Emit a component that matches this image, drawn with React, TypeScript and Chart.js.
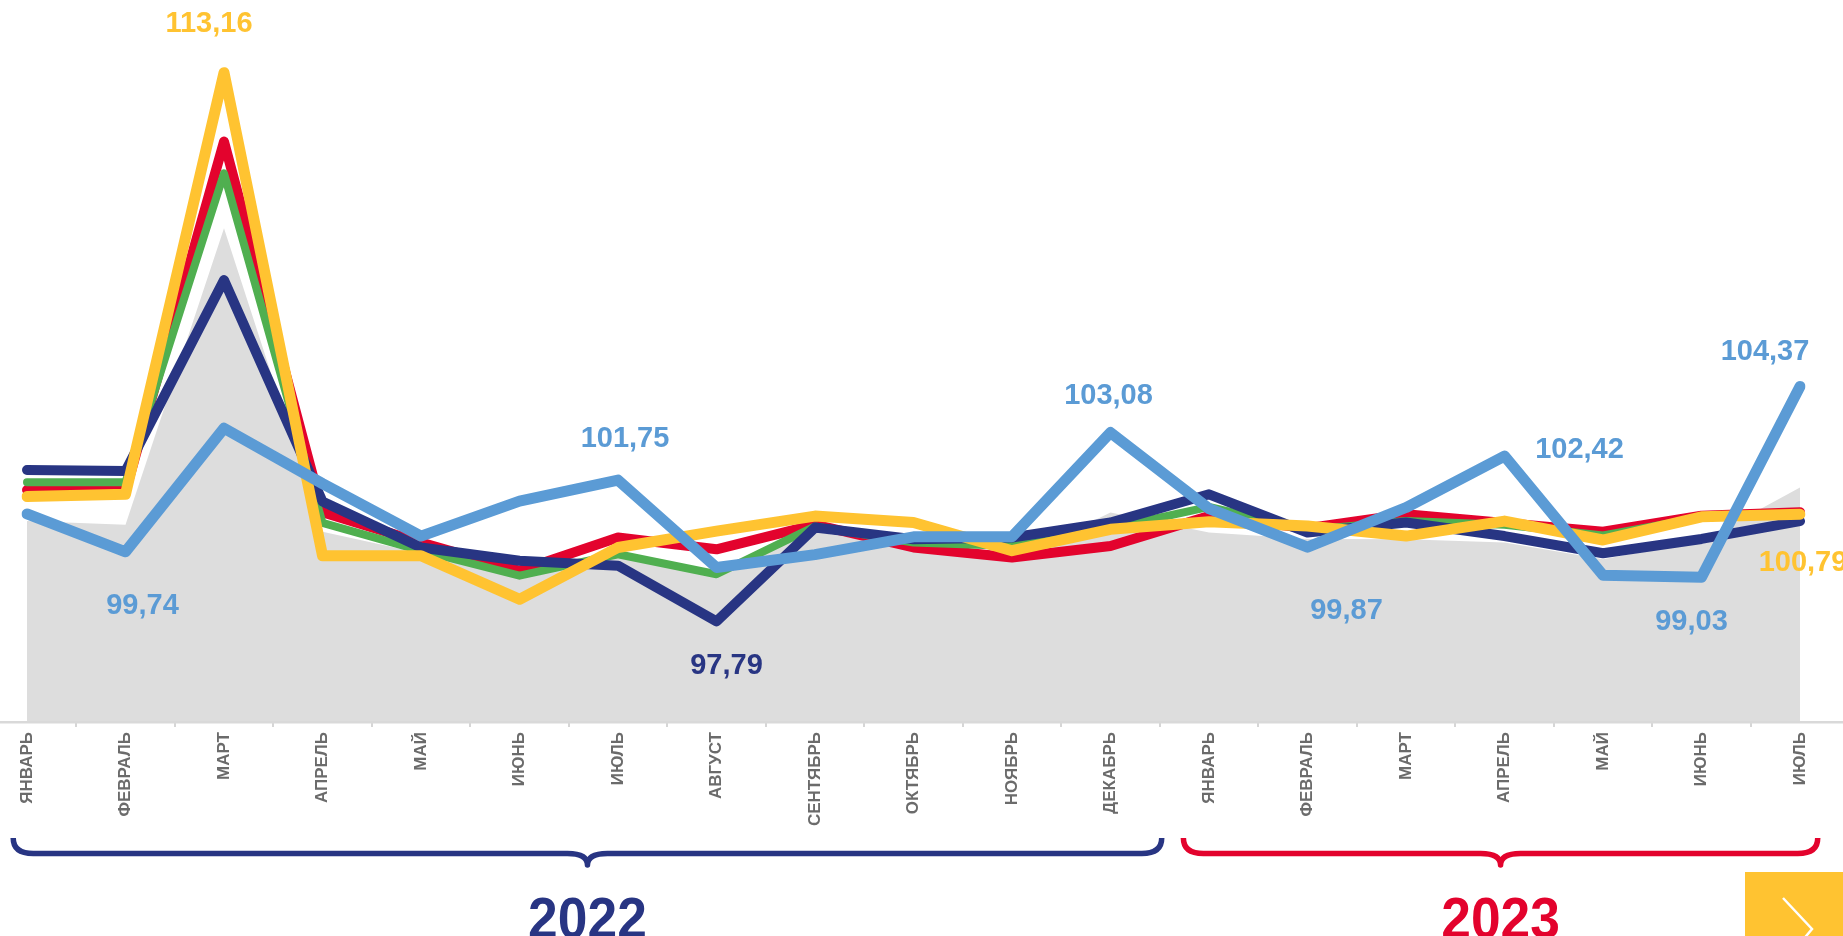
import React, { useEffect, useRef } from 'react';
import { Chart, registerables } from 'chart.js';

Chart.register(...registerables);

// ---------- DATA ----------
const months = [
  'ЯНВАРЬ', 'ФЕВРАЛЬ', 'МАРТ', 'АПРЕЛЬ', 'МАЙ', 'ИЮНЬ', 'ИЮЛЬ', 'АВГУСТ', 'СЕНТЯБРЬ', 'ОКТЯБРЬ', 'НОЯБРЬ', 'ДЕКАБРЬ',
  'ЯНВАРЬ', 'ФЕВРАЛЬ', 'МАРТ', 'АПРЕЛЬ', 'МАЙ', 'ИЮНЬ', 'ИЮЛЬ',
];

const blueSeries = [100.8, 99.74, 103.2, 101.65, 100.18, 101.16, 101.75, 99.3, 99.66, 100.16, 100.16, 103.08, 100.95, 99.87, 100.98, 102.42, 99.08, 99.03, 104.37];
const yellowSeries = [101.29, 101.35, 113.16, 99.63, 99.63, 98.41, 99.86, 100.32, 100.74, 100.56, 99.77, 100.37, 100.58, 100.46, 100.18, 100.6, 100.07, 100.72, 100.79];
const navySeries = [102.03, 102.0, 107.35, 101.15, 99.86, 99.49, 99.35, 97.79, 100.42, 100.09, 100.14, 100.56, 101.35, 100.28, 100.56, 100.18, 99.7, 100.1, 100.6];
const greenSeries = [101.69, 101.69, 110.34, 100.55, 99.77, 99.07, 99.67, 99.11, 100.45, 100.0, 99.9, 100.4, 101.0, 100.35, 100.6, 100.5, 100.2, 100.7, 100.8];
const redSeries = [101.47, 101.44, 111.23, 100.85, 100.0, 99.21, 100.14, 99.81, 100.5, 99.86, 99.58, 99.9, 100.74, 100.4, 100.79, 100.55, 100.3, 100.75, 100.85];
const graySeries = [100.6, 100.5, 108.8, 100.3, 99.7, 99.3, 99.72, 99.2, 100.3, 99.85, 99.5, 100.84, 100.28, 100.1, 100.09, 100.0, 99.53, 100.04, 101.54];

const yMin = 95;
const yMax = 115;

// labelled points: dataset index in the chart, point index, offsets
const valueLabels = [
  { ds: 1, idx: 2, dx: -15, dy: -49 },
  { ds: 0, idx: 1, dx: 17, dy: 54 },
  { ds: 0, idx: 6, dx: 7, dy: -41 },
  { ds: 2, idx: 7, dx: 10, dy: 45 },
  { ds: 0, idx: 11, dx: -2, dy: -37 },
  { ds: 0, idx: 13, dx: 39, dy: 64 },
  { ds: 0, idx: 15, dx: 75, dy: -6 },
  { ds: 0, idx: 17, dx: -10, dy: 45 },
  { ds: 0, idx: 18, dx: -35, dy: -34 },
  { ds: 1, idx: 18, dx: 3, dy: 49 },
];

const yearGroups = [
  { label: '2022', from: 0, to: 11, color: '#283583', padL: 0.14, padR: 0.52 },
  { label: '2023', from: 12, to: 18, color: '#E3032D', padL: 0.26, padR: 0.18 },
];

const COLORS = {
  blue: '#5B9BD5',
  yellow: '#FFC331',
  navy: '#283583',
  green: '#50AF50',
  red: '#E3032D',
  gray: '#DDDDDD',
};

const fmt = (v: number) => v.toFixed(2).replace('.', ',');

const annotationPlugin = {
  id: 'annotations',
  beforeDatasetsDraw(chart: any) {
    const { ctx, chartArea, width } = chart;
    ctx.save();
    ctx.strokeStyle = '#D9D9D9';
    ctx.lineWidth = 2.5;
    ctx.beginPath();
    ctx.moveTo(0, chartArea.bottom + 1.2);
    ctx.lineTo(width, chartArea.bottom + 1.2);
    ctx.stroke();
    ctx.restore();
  },
  afterDraw(chart: any) {
    const { ctx, chartArea } = chart;
    const xs = chart.scales.x;
    const step = xs.getPixelForValue(1) - xs.getPixelForValue(0);

    // value labels
    ctx.save();
    ctx.font = 'bold 29px "Liberation Sans", Arial, sans-serif';
    ctx.textAlign = 'center';
    ctx.textBaseline = 'middle';
    valueLabels.forEach((l) => {
      const ds = chart.data.datasets[l.ds];
      const meta = chart.getDatasetMeta(l.ds);
      const pt = meta.data[l.idx];
      ctx.fillStyle = ds.borderColor;
      ctx.fillText(fmt(ds.data[l.idx]), pt.x + l.dx, pt.y + l.dy);
    });
    ctx.restore();

    // braces + years
    const b = chartArea.bottom;
    const yTop = b + 117;
    const yLine = b + 132.5;
    const yTip = b + 144;
    const r = 20;
    yearGroups.forEach((g) => {
      const x0 = xs.getPixelForValue(g.from) - g.padL * step;
      const x1 = xs.getPixelForValue(g.to) + g.padR * step;
      const xc = (x0 + x1) / 2;
      ctx.save();
      ctx.strokeStyle = g.color;
      ctx.lineWidth = 5.5;
      ctx.lineCap = 'butt';
      ctx.lineJoin = 'round';
      ctx.beginPath();
      ctx.moveTo(x0, yTop);
      ctx.quadraticCurveTo(x0, yLine, x0 + r, yLine);
      ctx.lineTo(xc - r, yLine);
      ctx.quadraticCurveTo(xc, yLine, xc, yTip);
      ctx.quadraticCurveTo(xc, yLine, xc + r, yLine);
      ctx.lineTo(x1 - r, yLine);
      ctx.quadraticCurveTo(x1, yLine, x1, yTop);
      ctx.stroke();

      ctx.fillStyle = g.color;
      ctx.font = 'bold 58px "Liberation Sans", Arial, sans-serif';
      ctx.textAlign = 'center';
      ctx.textBaseline = 'alphabetic';
      ctx.translate(xc, b + 217);
      ctx.scale(0.92, 1);
      ctx.fillText(g.label, 0, 0);
      ctx.restore();
    });
  },
};

export default function App() {
  const canvasRef = useRef<HTMLCanvasElement | null>(null);

  useEffect(() => {
    if (!canvasRef.current) return;
    const lineDs = (label: string, data: number[], color: string, width: number) => ({
      label,
      data,
      borderColor: color,
      backgroundColor: color,
      borderWidth: width,
      pointRadius: 0,
      pointHoverRadius: 0,
      tension: 0,
      fill: false,
      borderJoinStyle: 'round' as const,
      borderCapStyle: 'round' as const,
    });

    const chart = new Chart(canvasRef.current, {
      type: 'line',
      data: {
        labels: months,
        datasets: [
          lineDs('blue', blueSeries, COLORS.blue, 11),
          lineDs('yellow', yellowSeries, COLORS.yellow, 11),
          lineDs('navy', navySeries, COLORS.navy, 10),
          lineDs('green', greenSeries, COLORS.green, 8),
          lineDs('red', redSeries, COLORS.red, 10),
          {
            label: 'gray',
            data: graySeries,
            borderColor: COLORS.gray,
            backgroundColor: COLORS.gray,
            borderWidth: 0,
            pointRadius: 0,
            tension: 0,
            fill: 'origin',
          },
        ],
      },
      options: {
        animation: false,
        responsive: true,
        maintainAspectRatio: false,
        layout: { padding: { left: 27, right: 43, top: 7, bottom: 0 } },
        plugins: {
          legend: { display: false },
          tooltip: { enabled: false },
        },
        events: [],
        scales: {
          y: { display: false, min: yMin, max: yMax },
          x: {
            offset: false,
            border: { display: false },
            grid: {
              offset: true,
              drawOnChartArea: false,
              drawTicks: true,
              tickLength: 6,
              color: '#D6D6D6',
              lineWidth: 2,
            },
            ticks: {
              autoSkip: false,
              maxRotation: 90,
              minRotation: 90,
              padding: 5,
              color: '#6B6B6B',
              font: { family: '"Liberation Sans", Arial, sans-serif', size: 17, weight: 'bold' },
            },
            afterFit: (scale: any) => {
              scale.height = 215;
            },
          },
        },
      },
      plugins: [annotationPlugin],
    });
    return () => chart.destroy();
  }, []);

  return (
    <div style={{ position: 'fixed', left: 0, top: 0, width: 1843, height: 936, background: '#fff', overflow: 'hidden' }}>
      <canvas ref={canvasRef} />
      <div style={{ position: 'absolute', left: 1745, top: 872, width: 98, height: 64, background: '#FFC331' }}>
        <svg width="98" height="64" style={{ display: 'block' }}>
          <polyline points="38,26 67,57 52,75" fill="none" stroke="#fff" strokeWidth="2.5" />
        </svg>
      </div>
    </div>
  );
}
